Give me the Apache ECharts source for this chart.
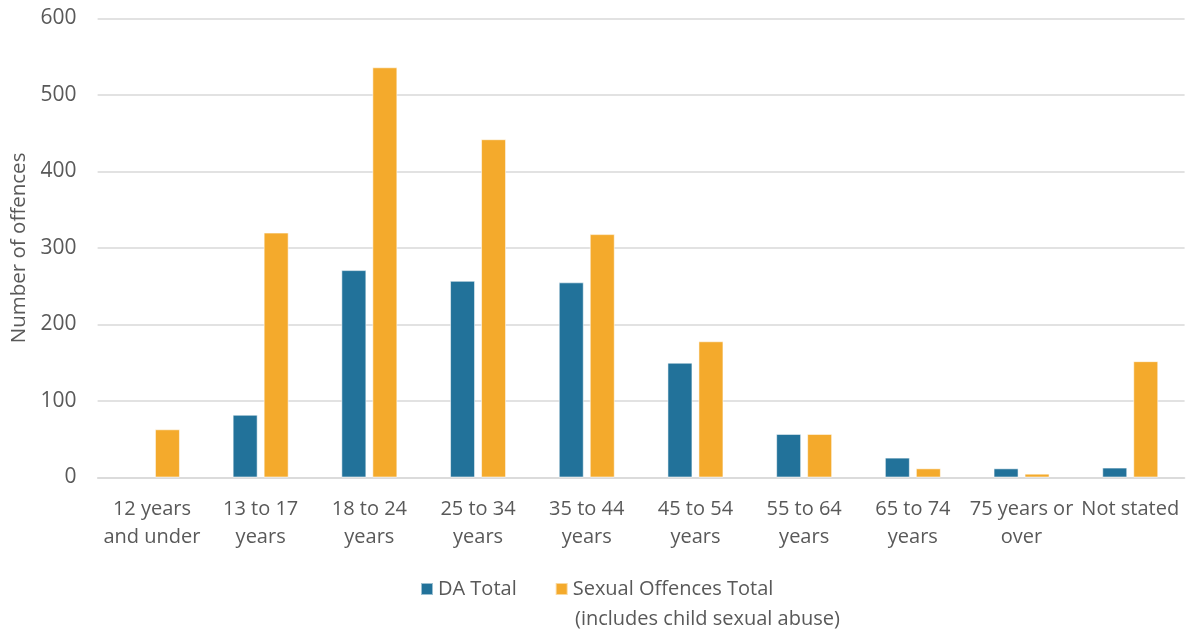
<!DOCTYPE html>
<html>
<head>
<meta charset="utf-8">
<title>Offences by age group</title>
<script src="https://cdn.jsdelivr.net/npm/echarts@6/dist/echarts.min.js"></script>
<style>
  html, body { margin: 0; padding: 0; background: #ffffff; }
  #chart { width: 1192px; height: 632px; }
</style>
</head>
<body>
<div id="chart"></div>
<script>
// Age groups shown along the x axis
const ageGroups = [
  '12 years\nand under',
  '13 to 17\nyears',
  '18 to 24\nyears',
  '25 to 34\nyears',
  '35 to 44\nyears',
  '45 to 54\nyears',
  '55 to 64\nyears',
  '65 to 74\nyears',
  '75 years or\nover',
  'Not stated'
];

// Domestic abuse offences per age group (no value for 12 and under)
const daTotal = [null, 82, 271, 257, 255, 150, 57, 26, 12, 13];

// Sexual offences per age group
const sexualOffencesTotal = [63, 320, 536, 442, 318, 178, 57, 12, 5, 152];

const seriesNames = ['DA Total', 'Sexual Offences Total'];
const seriesNote = '(includes child sexual abuse)';

// Value axis ticks
const yMin = 0;
const yMax = 600;
const yStep = 100;

const textColor = '#595959';
const fontFamily = '"Open Sans", "Noto Sans", sans-serif';

const chart = echarts.init(document.getElementById('chart'), null, { renderer: 'canvas' });

chart.setOption({
  animation: false,
  backgroundColor: '#ffffff',
  textStyle: { fontFamily: fontFamily, color: textColor },
  grid: {
    left: 97.6,
    right: 7.4,
    top: 18.3,
    bottom: 154.5,
    containLabel: false
  },
  legend: {
    left: 415,
    top: 570,
    padding: 5,
    itemWidth: 12,
    itemHeight: 12,
    itemGap: 38,
    icon: 'rect',
    textStyle: {
      fontFamily: fontFamily,
      fontSize: 20,
      color: textColor,
      lineHeight: 28
    },
    data: seriesNames
  },
  // second line of the sexual offences legend entry
  graphic: [
    {
      type: 'text',
      left: 575,
      top: 605,
      style: {
        text: seriesNote,
        fontFamily: fontFamily,
        fontSize: 20,
        lineHeight: 28,
        fill: textColor
      }
    }
  ],
  xAxis: {
    type: 'category',
    data: ageGroups,
    axisLine: { show: true, lineStyle: { color: '#d9d9d9', width: 1.5 } },
    axisTick: { show: false },
    axisLabel: {
      interval: 0,
      margin: 18,
      fontFamily: fontFamily,
      fontSize: 20,
      lineHeight: 28,
      color: textColor
    }
  },
  yAxis: {
    type: 'value',
    min: yMin,
    max: yMax,
    interval: yStep,
    name: 'Number of offences',
    nameLocation: 'middle',
    nameRotate: 90,
    nameGap: 67,
    nameTextStyle: { fontFamily: fontFamily, fontSize: 20.5, color: textColor },
    axisLine: { show: false },
    axisTick: { show: false },
    axisLabel: {
      margin: 21,
      fontFamily: fontFamily,
      fontSize: 21,
      color: textColor
    },
    splitLine: { lineStyle: { color: '#d9d9d9', width: 1.5 } }
  },
  series: [
    {
      name: seriesNames[0],
      type: 'bar',
      data: daTotal,
      barWidth: 25,
      barGap: '24%',
      itemStyle: { color: '#22729a', borderColor: 'rgba(255,255,255,0.55)', borderWidth: 1 }
    },
    {
      name: seriesNames[1],
      type: 'bar',
      data: sexualOffencesTotal,
      barWidth: 25,
      barGap: '24%',
      itemStyle: { color: '#f4aa2c', borderColor: 'rgba(255,255,255,0.55)', borderWidth: 1 }
    }
  ]
});
</script>
</body>
</html>
